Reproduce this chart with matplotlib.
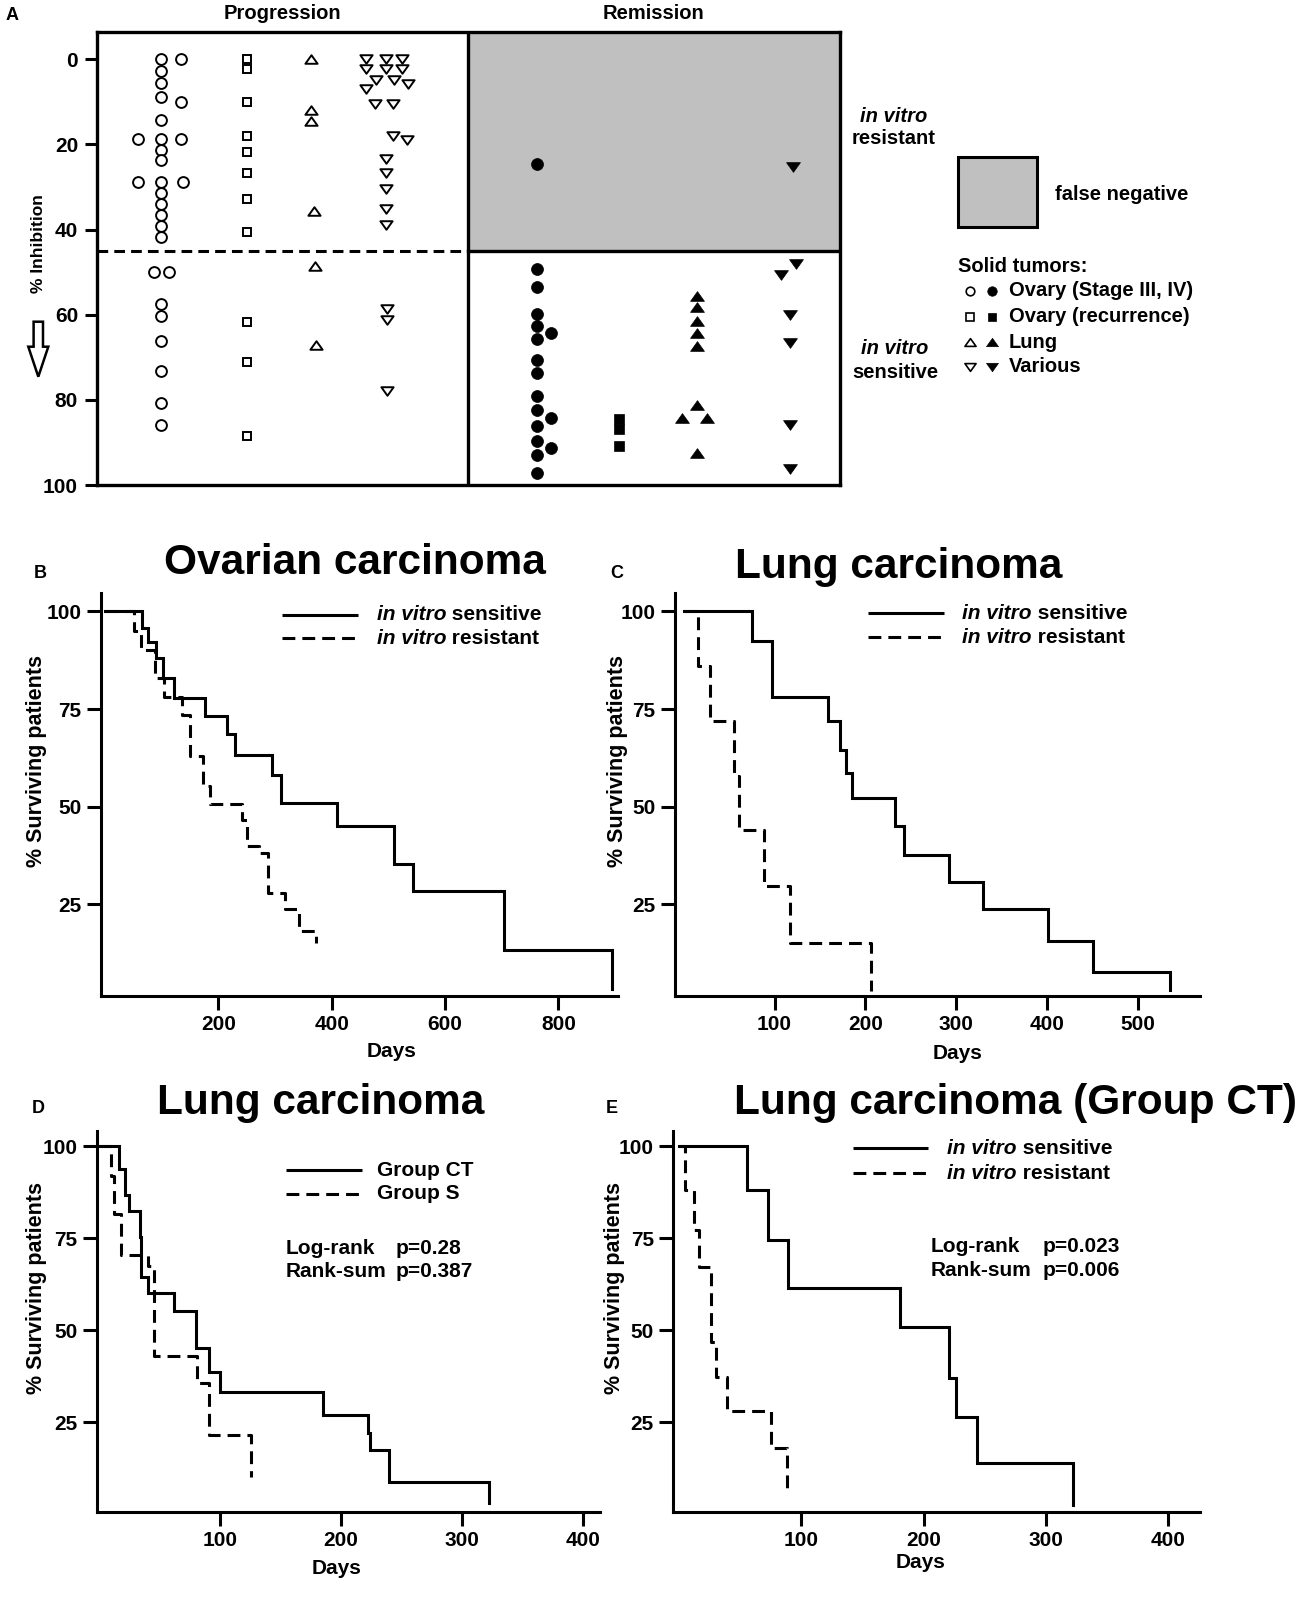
import matplotlib
matplotlib.use("Agg")
import matplotlib.pyplot as plt
from matplotlib.patches import Rectangle, Polygon
from matplotlib.path import Path

# ---------------- data ----------------
# Panel A: % inhibition per patient, with small horizontal jitter inside each column
prog_ovary = [0, 2.7, 5.5, 8.8, 14.3, 18.6, 21.2, 23.7, 28.9, 31.4, 34.0, 36.6, 39.2, 41.7,
              57.4, 60.3, 66.2, 73.1, 80.8, 85.8, 0, 10.0, 18.6, 28.9, 18.6, 28.9, 50.0, 50.0]
prog_ovary_jit = [0] * 20 + [0.22, 0.22, 0.22, 0.24, -0.245, -0.245, -0.075, 0.085]
prog_recur = [0, 2.2, 10.0, 18.0, 21.7, 26.6, 32.8, 40.6, 61.6, 71.0, 88.5]
prog_recur_jit = [0] * 11
prog_lung = [0, 12.0, 14.4, 35.6, 48.6, 67.0]
prog_lung_jit = [0, 0, 0, 0.03, 0.04, 0.05]
prog_various = [0, 0, 0, 2.2, 2.2, 2.2, 4.8, 4.8, 5.8, 7.0, 10.5, 10.5, 18.0, 18.9,
                23.4, 26.7, 30.5, 35.2, 38.9, 58.7, 61.3, 78.0]
prog_various_jit = [-0.21, 0, 0.18, -0.21, 0, 0.18, -0.10, 0.09, 0.24, -0.21, -0.11, 0.08,
                    0.08, 0.23, 0, 0, 0, 0, 0, 0.01, 0.01, 0.01]

rem_ovary = [24.5, 49.3, 53.5, 59.8, 62.7, 65.7, 70.7, 73.7, 79.1, 82.3, 86.2, 89.7, 93.0, 97.1,
             64.3, 84.2, 91.3]
rem_ovary_jit = [0] * 14 + [0.15, 0.15, 0.15]
rem_recur = [84.5, 86.9, 90.9]
rem_recur_jit = [0, 0, 0]
rem_lung = [55.5, 58.2, 61.5, 64.4, 67.4, 81.3, 84.2, 84.2, 92.4]
rem_lung_jit = [0, 0, 0, 0, 0, 0, -0.16, 0.11, 0]
rem_various = [25.2, 48.0, 50.6, 60.0, 66.6, 86.0, 96.2]
rem_various_jit = [0.03, 0.07, -0.09, 0, 0, 0, 0]

cutoff = 45  # in vitro resistant / sensitive threshold

# Panels B-E: Kaplan-Meier steps (time in days, % surviving)
ov_sens_t = [0, 64.7, 76.5, 89.4, 102.9, 122.4, 176.5, 214.7, 229.4, 295.3, 310.6, 409, 510, 543, 704, 895]
ov_sens_s = [100, 95.7, 92.3, 88.1, 82.9, 77.8, 73.3, 68.5, 63.2, 58.1, 51.0, 45.0, 35.4, 28.4, 13.2, 3.4]
ov_res_t = [0, 51, 63.5, 88, 104, 135, 150, 172, 185, 241, 251, 272, 287, 318, 343, 372]
ov_res_s = [100, 95, 90, 83, 78, 73.4, 63, 55.2, 50.7, 46.7, 40, 38.2, 28, 23.7, 18.2, 15.2]

lung_sens_t = [0, 74.7, 97.3, 159.3, 172.4, 179, 185, 232.5, 242.8, 292, 329.7, 401, 450.8, 535.4]
lung_sens_s = [100, 92.5, 78.2, 71.9, 64.6, 58.6, 52.1, 45.1, 37.7, 30.8, 23.7, 15.6, 7.7, 3.1]
lung_res_t = [0, 16.1, 29.2, 55, 60.7, 87.9, 117, 206.7]
lung_res_s = [100, 86.1, 71.9, 57.9, 43.9, 29.6, 15, 2.7]

ct_t = [0, 16.6, 21.4, 24.8, 33.8, 35.2, 40.7, 62, 80.3, 91.4, 100, 185, 222, 224, 240, 322]
ct_s = [100, 93.9, 86.7, 82.4, 75.2, 64.5, 60, 55.3, 45.1, 38.6, 33.3, 27, 22, 17.5, 8.9, 3]
s_t = [0, 10, 12.8, 18, 41, 46, 81, 91, 126]
s_s = [100, 92, 81.6, 70.5, 67.5, 43, 35.6, 21.5, 10.2]

ctg_sens_t = [0, 55.7, 72.7, 89.5, 180.6, 220.7, 226.2, 243.3, 322]
ctg_sens_s = [100, 88.1, 74.5, 61.4, 51, 36.9, 26.5, 14, 2.5]
ctg_res_t = [0, 4.9, 12.9, 16.4, 26.1, 30.3, 39.7, 75.5, 88.8]
ctg_res_s = [100, 88.2, 77.2, 67.2, 46.9, 37.4, 28.1, 17.9, 5.7]

# ---------------- style ----------------
W, H, DPI = 1308, 1610, 100
plt.rcParams['font.family'] = ['Liberation Sans', 'DejaVu Sans']
plt.rcParams['font.weight'] = 'bold'
LW = 2.2
DASH = (0, (4.2, 2.3))

tri_up = Path([(-1, -0.7), (1, -0.7), (0, 0.7), (-1, -0.7)], closed=True)
tri_dn = Path([(-1, 0.7), (1, 0.7), (0, -0.7), (-1, 0.7)], closed=True)

fig = plt.figure(figsize=(W / DPI, H / DPI), dpi=DPI)

# overlay in pixel coordinates for free text / legend bits
ov = fig.add_axes([0, 0, 1, 1])
ov.set_xlim(0, W)
ov.set_ylim(H, 0)
ov.axis('off')
ov.patch.set_alpha(0)


def px_axes(left, top, right, bottom):
    return fig.add_axes([left / W, 1 - bottom / H, (right - left) / W, (bottom - top) / H])


# ================= Panel A =================
axA = px_axes(96.7, 31.7, 840, 485)
axA.set_xlim(0, 8)
axA.set_ylim(100, -6.5)
axA.add_patch(Rectangle((4, -6.5), 4, cutoff + 6.5, facecolor='#c0c0c0', edgecolor='none', zorder=0))
axA.axvline(4, color='black', lw=2.4, zorder=1)
axA.plot([0, 4], [cutoff, cutoff], color='black', lw=2.2, linestyle=(0, (3.5, 2)), dash_capstyle='butt')
axA.plot([4, 8], [cutoff, cutoff], color='black', lw=2.4)

groups = [
    (0.69, prog_ovary, prog_ovary_jit, 'o', 7.8, False),
    (1.62, prog_recur, prog_recur_jit, 's', 5.5, False),
    (2.31, prog_lung, prog_lung_jit, tri_up, 8.8, False),
    (3.11, prog_various, prog_various_jit, tri_dn, 8.8, False),
    (4.74, rem_ovary, rem_ovary_jit, 'o', 8.6, True),
    (5.62, rem_recur, rem_recur_jit, 's', 7.0, True),
    (6.46, rem_lung, rem_lung_jit, tri_up, 10, True),
    (7.46, rem_various, rem_various_jit, tri_dn, 10, True),
]
for col, vals, jit, mk, ms, filled in groups:
    xs = [col + j for j in jit]
    if filled:
        axA.plot(xs, vals, linestyle='none', marker=mk, ms=ms, mfc='black', mec='black', mew=0.5, zorder=3)
    else:
        axA.plot(xs, vals, linestyle='none', marker=mk, ms=ms, mfc='white', mec='black', mew=1.4, zorder=3)

axA.set_xticks([])
axA.set_yticks([0, 20, 40, 60, 80, 100])
axA.tick_params(axis='y', direction='out', length=8.4, width=2.2, labelsize=15, pad=5)
for sp in axA.spines.values():
    sp.set_linewidth(2.4)

ov.text(11.7, 15, 'A', fontsize=13, ha='center', va='center')
ov.text(282.7, 13.3, 'Progression', fontsize=14.5, ha='center', va='center')
ov.text(653.3, 13.3, 'Remission', fontsize=14.5, ha='center', va='center')
ov.text(38.3, 243.5, '% Inhibition', fontsize=12.5, rotation=90, ha='center', va='center')
ov.add_patch(Polygon([(33.6, 321.7), (43.0, 321.7), (43.0, 346.7), (48.3, 346.7), (38.3, 376.7),
                      (28.3, 346.7), (33.6, 346.7)], closed=True, facecolor='white',
                     edgecolor='black', lw=1.8))

ov.text(893.3, 116.7, 'in vitro', fontsize=14.5, style='italic', ha='center', va='center')
ov.text(893.3, 138.3, 'resistant', fontsize=14.5, ha='center', va='center')
ov.text(895, 348.3, 'in vitro', fontsize=14.5, style='italic', ha='center', va='center')
ov.text(895, 372.7, 'sensitive', fontsize=14.5, ha='center', va='center')

ov.add_patch(Rectangle((958.3, 157.3), 78.4, 69.4, facecolor='#c0c0c0', edgecolor='black', lw=2.2))
ov.text(1055, 194, 'false negative', fontsize=14.5, ha='left', va='center')
ov.text(958, 266, 'Solid tumors:', fontsize=14.5, ha='left', va='center')
legend_rows = [('o', 6.2, 'Ovary (Stage III, IV)'), ('s', 5.2, 'Ovary (recurrence)'),
               (tri_up, 8, 'Lung'), (tri_dn, 8, 'Various')]
for (mk, ms, lab), y in zip(legend_rows, [291, 316.7, 342, 366.7]):
    ov.plot([970], [y], marker=mk, ms=ms, mfc='white', mec='black', mew=1.2, linestyle='none')
    ov.plot([992.3], [y], marker=mk, ms=ms + 0.6, mfc='black', mec='black', mew=0.5, linestyle='none')
    ov.text(1009, y, lab, fontsize=14.5, ha='left', va='center')


# ================= KM panels =================
def mixed_text(ax, x, y, italic, rest, size=15):
    t1 = ax.text(x, y, italic, style='italic', fontsize=size, ha='left', va='center')
    ax.annotate(rest, xy=(1, 0), xycoords=t1, ha='left', va='bottom', fontsize=size)


def km_panel(box, curves, xlim, ylim, xticks):
    ax = px_axes(*box)
    for t, s, ls in curves:
        ax.plot(t, s, drawstyle='steps-post', color='black', lw=LW, linestyle=ls,
                solid_joinstyle='miter', dash_capstyle='butt', clip_on=False)
    ax.set_xlim(*xlim)
    ax.set_ylim(*ylim)
    ax.spines['top'].set_visible(False)
    ax.spines['right'].set_visible(False)
    ax.spines['left'].set_linewidth(LW)
    ax.spines['bottom'].set_linewidth(LW)
    ax.set_xticks(xticks)
    ax.set_yticks([25, 50, 75, 100])
    ax.tick_params(direction='out', length=10, width=LW, labelsize=15, pad=4)
    ax.patch.set_alpha(0)
    return ax


def km_legend(ax, x0, x1, xt, ys, labels):
    for y, ls, lab in zip(ys, ['-', DASH], labels):
        ax.plot([x0, x1], [y, y], color='black', lw=LW, linestyle=ls, dash_capstyle='butt',
                solid_capstyle='butt', clip_on=False)
        if isinstance(lab, tuple):
            mixed_text(ax, xt, y, *lab)
        else:
            ax.text(xt, y, lab, fontsize=15, ha='left', va='center')


iv_labels = [('in vitro', ' sensitive'), ('in vitro', ' resistant')]

axB = km_panel((100.7, 592.7, 618, 996), [(ov_sens_t, ov_sens_s, '-'), (ov_res_t, ov_res_s, DASH)],
               (-7.6, 905), (1.5, 104.8), [200, 400, 600, 800])
km_legend(axB, 312, 447, 479, [99.2, 93.1], iv_labels)

axC = km_panel((674.9, 592.7, 1200.3, 996), [(lung_sens_t, lung_sens_s, '-'), (lung_res_t, lung_res_s, DASH)],
               (-9.8, 569), (1.5, 104.8), [100, 200, 300, 400, 500])
km_legend(axC, 203, 287, 307, [99.6, 93.4], iv_labels)

axD = km_panel((96.8, 1130.7, 599.7, 1511.7), [(ct_t, ct_s, '-'), (s_t, s_s, DASH)],
               (-1.6, 413.7), (0.7, 104.2), [100, 200, 300, 400])
km_legend(axD, 155, 217, 230, [93.5, 87.1], ['Group CT', 'Group S'])
for y, a, b in [(72.2, 'Log-rank', 'p=0.28'), (65.9, 'Rank-sum', 'p=0.387')]:
    axD.text(154, y, a, fontsize=15, ha='left', va='center')
    axD.text(245, y, b, fontsize=15, ha='left', va='center')

axE = km_panel((673.2, 1130.7, 1200.3, 1511.7), [(ctg_sens_t, ctg_sens_s, '-'), (ctg_res_t, ctg_res_s, DASH)],
               (-4.4, 426), (0.7, 104.2), [100, 200, 300, 400])
km_legend(axE, 142.4, 203.6, 219.3, [99.4, 92.6], iv_labels)
for y, a, b in [(72.7, 'Log-rank', 'p=0.023'), (66.3, 'Rank-sum', 'p=0.006')]:
    axE.text(206, y, a, fontsize=15, ha='left', va='center')
    axE.text(297, y, b, fontsize=15, ha='left', va='center')

# titles, panel letters, axis labels
for x, y, txt in [(354.5, 563, 'Ovarian carcinoma'), (898.6, 566.7, 'Lung carcinoma'),
                  (320.8, 1103.3, 'Lung carcinoma'), (1016, 1103.3, 'Lung carcinoma (Group CT)')]:
    ov.text(x, y, txt, fontsize=30.5, ha='center', va='center')
for x, y, txt in [(40, 573, 'B'), (617, 573, 'C'), (38, 1108, 'D'), (612, 1108, 'E')]:
    ov.text(x, y, txt, fontsize=13, ha='center', va='center')
for x, y in [(37, 760.7), (618, 760.7), (37, 1288), (614.5, 1288)]:
    ov.text(x, y, '% Surviving patients', fontsize=15.5, rotation=90, ha='center', va='center')
for x, y in [(392, 1051), (958, 1053), (337, 1568), (921, 1562)]:
    ov.text(x, y, 'Days', fontsize=15, ha='center', va='center')

fig.savefig('out.png', dpi=DPI)
